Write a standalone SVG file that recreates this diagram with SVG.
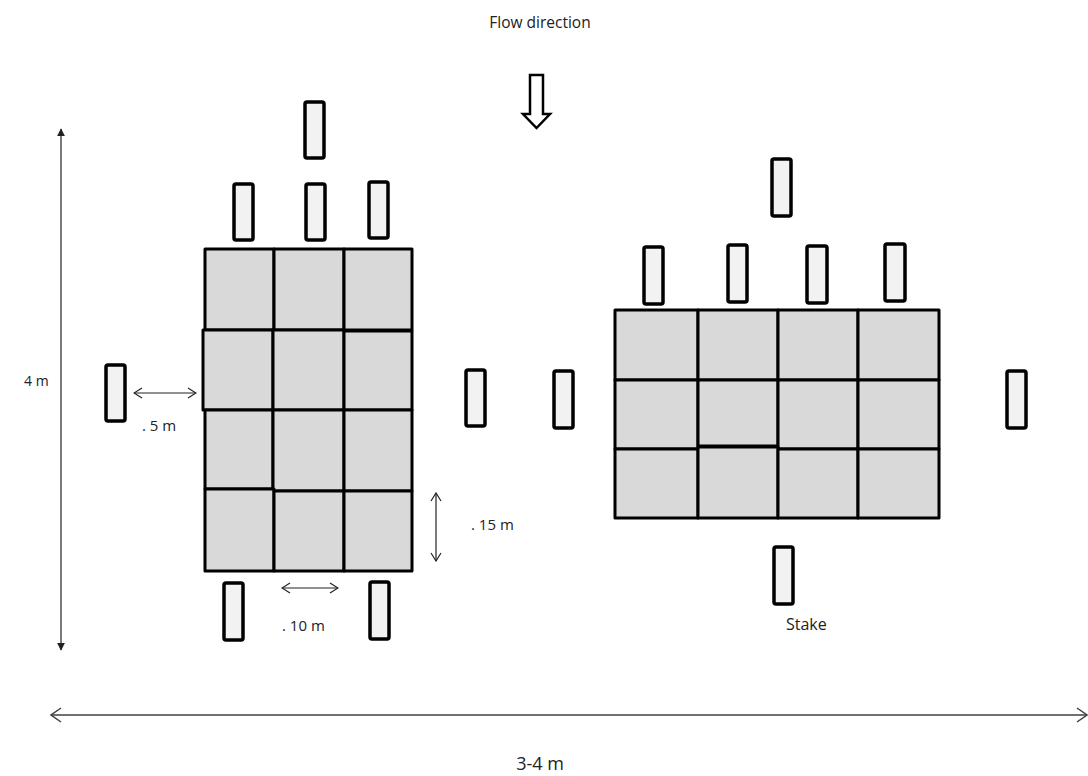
<svg xmlns="http://www.w3.org/2000/svg" width="1088" height="776" viewBox="0 0 1088 776">
<defs>
<style>
.cell{fill:#d9d9d9;stroke:#000;stroke-width:3;stroke-linejoin:round}
.stake{fill:#f2f2f2;stroke:#000;stroke-width:3.5}
.t{font-family:"Open Sans","Noto Sans",sans-serif;fill:#222}
.dim{stroke:#404040;stroke-width:1.5;fill:none}
.thin{stroke:#222;stroke-width:1.2;fill:none}
</style>
<marker id="tri" viewBox="0 0 10 10" refX="9" refY="5" markerWidth="8" markerHeight="8" markerUnits="userSpaceOnUse" orient="auto-start-reverse">
<path d="M0,0 L10,5 L0,10 Z" fill="#222"/>
</marker>
<marker id="chev" viewBox="0 0 12 16" refX="11" refY="8" markerWidth="12" markerHeight="16" markerUnits="userSpaceOnUse" orient="auto-start-reverse">
<path d="M1,1 L11,8 L1,15" fill="none" stroke="#404040" stroke-width="1.5"/>
</marker>
<marker id="chevs" viewBox="0 0 10 12" refX="9" refY="6" markerWidth="10" markerHeight="12" markerUnits="userSpaceOnUse" orient="auto-start-reverse">
<path d="M1,1 L9,6 L1,11" fill="none" stroke="#222" stroke-width="1.2"/>
</marker>
</defs>
<rect width="1088" height="776" fill="#fff"/>

<g id="flow-label"><text class="t" x="540" y="28" text-anchor="middle" style="font-size:15.5px">Flow direction</text></g>
<g id="flow-arrow">
<path d="M530,75 L543,75 L543,114 L550,114 L536.5,128 L523,114 L530,114 Z" fill="#fff" stroke="#000" stroke-width="2.5" stroke-linejoin="miter"/>
</g>

<g id="left-grid">
<rect class="cell" x="205" y="249" width="69" height="81"/>
<rect class="cell" x="274" y="249" width="70" height="81"/>
<rect class="cell" x="344" y="249" width="68" height="81"/>
<rect class="cell" x="203" y="330" width="70" height="80"/>
<rect class="cell" x="273" y="330" width="71" height="80"/>
<rect class="cell" x="344" y="331" width="68" height="79"/>
<rect class="cell" x="205" y="410" width="68" height="79"/>
<rect class="cell" x="273" y="410" width="71" height="81"/>
<rect class="cell" x="344" y="410" width="68" height="81"/>
<rect class="cell" x="205" y="489" width="69" height="82"/>
<rect class="cell" x="274" y="491" width="70" height="80"/>
<rect class="cell" x="344" y="491" width="68" height="80"/>
</g>

<g id="right-grid">
<rect class="cell" x="615" y="310" width="83" height="70"/>
<rect class="cell" x="698" y="310" width="80" height="70"/>
<rect class="cell" x="778" y="310" width="80" height="70"/>
<rect class="cell" x="858" y="310" width="81" height="70"/>
<rect class="cell" x="615" y="380" width="83" height="69"/>
<rect class="cell" x="698" y="380" width="80" height="66"/>
<rect class="cell" x="778" y="380" width="80" height="69"/>
<rect class="cell" x="858" y="380" width="81" height="69"/>
<rect class="cell" x="615" y="449" width="83" height="69"/>
<rect class="cell" x="698" y="447" width="80" height="71"/>
<rect class="cell" x="778" y="449" width="80" height="69"/>
<rect class="cell" x="858" y="449" width="81" height="69"/>
</g>

<g id="stakes">
<rect class="stake" x="305" y="102" width="19" height="56" rx="2"/>
<rect class="stake" x="234" y="184" width="19" height="56" rx="2"/>
<rect class="stake" x="306" y="184" width="19" height="56" rx="2"/>
<rect class="stake" x="369" y="182" width="19" height="56" rx="2"/>
<rect class="stake" x="106" y="365" width="19" height="56" rx="2"/>
<rect class="stake" x="466" y="370" width="19" height="56" rx="2"/>
<rect class="stake" x="554" y="371" width="19" height="57" rx="2"/>
<rect class="stake" x="224" y="583" width="19" height="57" rx="2"/>
<rect class="stake" x="370" y="582" width="19" height="57" rx="2"/>
<rect class="stake" x="772" y="159" width="19" height="57" rx="2"/>
<rect class="stake" x="644" y="247" width="19" height="57" rx="2"/>
<rect class="stake" x="728" y="245" width="19" height="57" rx="2"/>
<rect class="stake" x="807" y="246" width="20" height="57" rx="2"/>
<rect class="stake" x="885" y="244" width="20" height="57" rx="2"/>
<rect class="stake" x="1007" y="371" width="19" height="57" rx="2"/>
<rect class="stake" x="774" y="547" width="19" height="57" rx="2"/>
</g>

<g id="connectors">
<line class="thin" x1="61" y1="129" x2="61" y2="650" stroke-width="1.5" marker-start="url(#tri)" marker-end="url(#tri)"/>
<line class="dim" x1="51" y1="715" x2="1087" y2="715" marker-start="url(#chev)" marker-end="url(#chev)"/>
<line class="thin" x1="134" y1="393" x2="196" y2="393" marker-start="url(#chevs)" marker-end="url(#chevs)"/>
<line class="thin" x1="282" y1="588" x2="338" y2="588" marker-start="url(#chevs)" marker-end="url(#chevs)"/>
<line class="thin" x1="436" y1="493" x2="436" y2="561" marker-start="url(#chevs)" marker-end="url(#chevs)"/>
</g>

<g id="labels">
<text class="t" x="24" y="386" style="font-size:14px">4 m</text>
<text class="t" x="142" y="431" style="font-size:15px">. 5 m</text>
<text class="t" x="282" y="631" style="font-size:15px">. 10 m</text>
<text class="t" x="471" y="530" style="font-size:15px">. 15 m</text>
<text class="t" x="786" y="630" style="font-size:16px">Stake</text>
<text class="t" x="540" y="770" text-anchor="middle" style="font-size:18px">3-4 m</text>
</g>
</svg>
